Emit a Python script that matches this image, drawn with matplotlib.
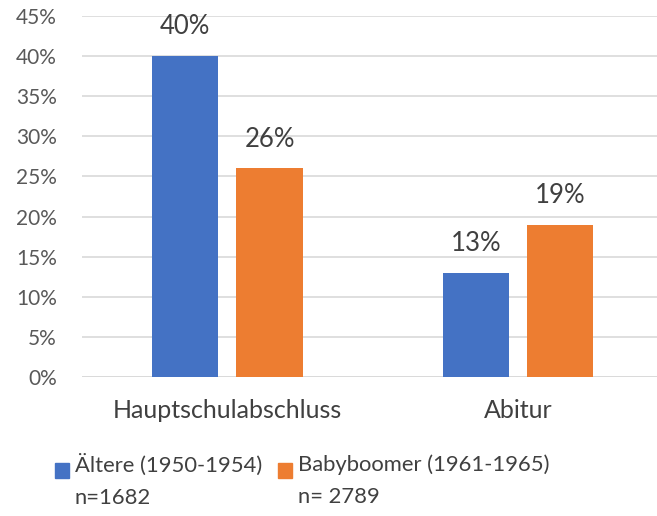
import matplotlib.pyplot as plt
from matplotlib.patches import Rectangle
from matplotlib.ticker import MultipleLocator, FuncFormatter

plt.rcParams['font.family'] = ['Lato', 'DejaVu Sans']

categories = ['Hauptschulabschluss', 'Abitur']
aeltere = [40, 13]
babyboomer = [26, 19]
series_labels = ['Ältere (1950-1954)\nn=1682', 'Babyboomer (1961-1965)\nn= 2789']
colors = ['#4472C4', '#ED7D31']

fig = plt.figure(figsize=(6.57, 5.16), dpi=100)
ax = fig.add_axes([0.1248, 0.2694, 0.885, 0.6996])

x = list(range(len(categories)))
w = 0.228
off = 0.145
for vals, sign, c in [(aeltere, -1, colors[0]), (babyboomer, 1, colors[1])]:
    xs = [i + sign * off for i in x]
    bars = ax.bar(xs, vals, width=w, color=c, zorder=3)
    for b, v in zip(bars, vals):
        ax.annotate(f'{v}%', (b.get_x() + b.get_width() / 2, v), xytext=(0, 12),
                    textcoords='offset points', ha='center', va='bottom',
                    fontsize=18.5, color='#404040')

ax.set_xlim(-0.5, 1.5)
ax.set_ylim(0, 45)
ax.yaxis.set_major_locator(MultipleLocator(5))
ax.yaxis.set_major_formatter(FuncFormatter(lambda v, p: f'{v:.0f}%'))
ax.set_xticks(x)
ax.set_xticklabels(categories)
ax.tick_params(axis='y', length=0, pad=18, labelsize=15, labelcolor='#595959')
ax.tick_params(axis='x', length=0, pad=16, labelsize=18, labelcolor='#404040')
ax.grid(axis='y', color='#d9d9d9', linewidth=1.2, zorder=0)
for s in ax.spines.values():
    s.set_visible(False)
ax.axhline(0, color='#d9d9d9', linewidth=1.2, zorder=1)

# legend, drawn by hand so the marker sits on the first line
leg_x = [55 / 657, 278 / 657]
for lx, lab, c in zip(leg_x, series_labels, colors):
    fig.patches.append(Rectangle((lx, 1 - 478 / 516), 14 / 657, 15 / 516,
                                 transform=fig.transFigure, color=c))
    fig.text(lx + 20 / 657, 1 - 454 / 516, lab, ha='left', va='top',
             fontsize=15.8, color='#404040', linespacing=1.75)

fig.savefig('out.png', dpi=100)
